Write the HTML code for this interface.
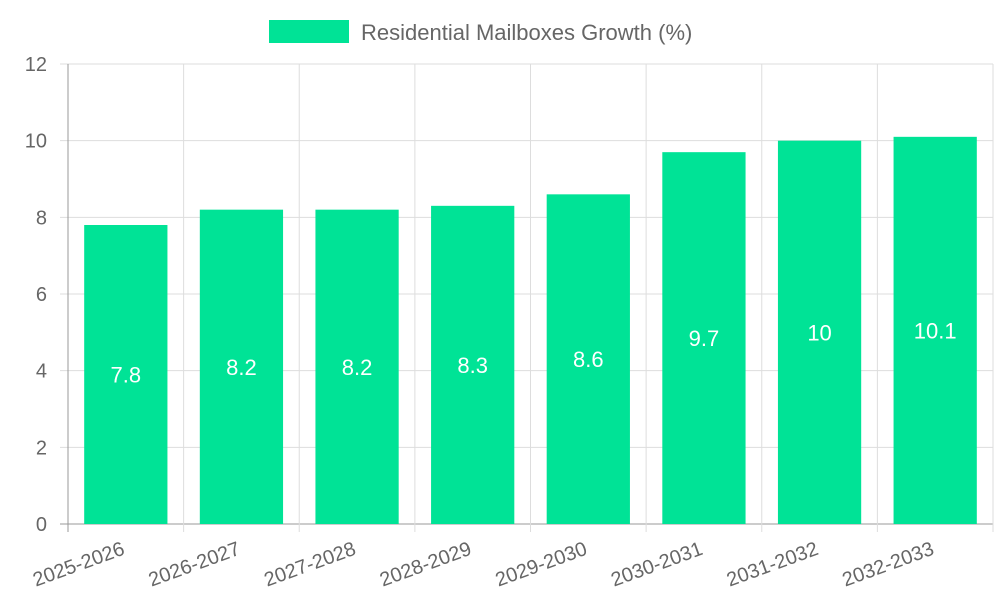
<!DOCTYPE html>
<html><head><meta charset="utf-8"><style>
body{margin:0;background:#fff;font-family:"Liberation Sans",sans-serif}
</style></head><body>
<svg width="1000" height="600" id="c" xmlns="http://www.w3.org/2000/svg">
<g>
<rect x="269" y="20" width="80" height="23" fill="#00e396"/>
<text x="361" y="40" font-size="22" fill="#666">Residential Mailboxes Growth (%)</text>
</g>
</svg>
<script>
const categories=["2025-2026","2026-2027","2027-2028","2028-2029","2029-2030","2030-2031","2031-2032","2032-2033"];
const values=[7.8,8.2,8.2,8.3,8.6,9.7,10,10.1];
const yTicks=[0,2,4,6,8,10,12];
const svg=document.getElementById('c');
const NS="http://www.w3.org/2000/svg";
const L=68,R=993,T=64,B=524,yMax=12;
const bw=(R-L)/categories.length;
const y=v=>B-(v/yMax)*(B-T);
const x=i=>L+bw*i;
function mk(tag,a,txt){const e=document.createElementNS(NS,tag);for(const k in a)e.setAttribute(k,a[k]);if(txt!=null)e.textContent=txt;svg.appendChild(e);return e;}
yTicks.forEach(t=>{
 const g=mk('line',{x1:L-8,x2:R,y1:y(t),y2:y(t),stroke:t===0?'#999':'#ddd','stroke-width':1});
 
 
 const lb=mk('text',{x:47,y:y(t)+7,'font-size':20,fill:'#666','text-anchor':'end'},t);
 
 
});
for(let i=0;i<=categories.length;i++){
 const g=mk('line',{x1:x(i),x2:x(i),y1:T,y2:B+8,stroke:i===0?'#999':'#ddd','stroke-width':1});
 
 
}
categories.forEach((c,i)=>{
 const cx=x(i)+bw/2,w=bw*0.72;
 const r=mk('rect',{x:cx-w/2,y:y(values[i]),width:w,height:B-y(values[i]),fill:'#00e396'});
 
 
 const v=mk('text',{x:cx,y:(y(values[i])+B)/2+8,'font-size':22,fill:'#fff','text-anchor':'middle'},values[i]);
 
 
 const t=mk('text',{x:cx,y:B+30,'font-size':20,fill:'#666','text-anchor':'end',transform:`rotate(-20 ${cx} ${B+30})`},c);
 
 
});
</script>
</body></html>
